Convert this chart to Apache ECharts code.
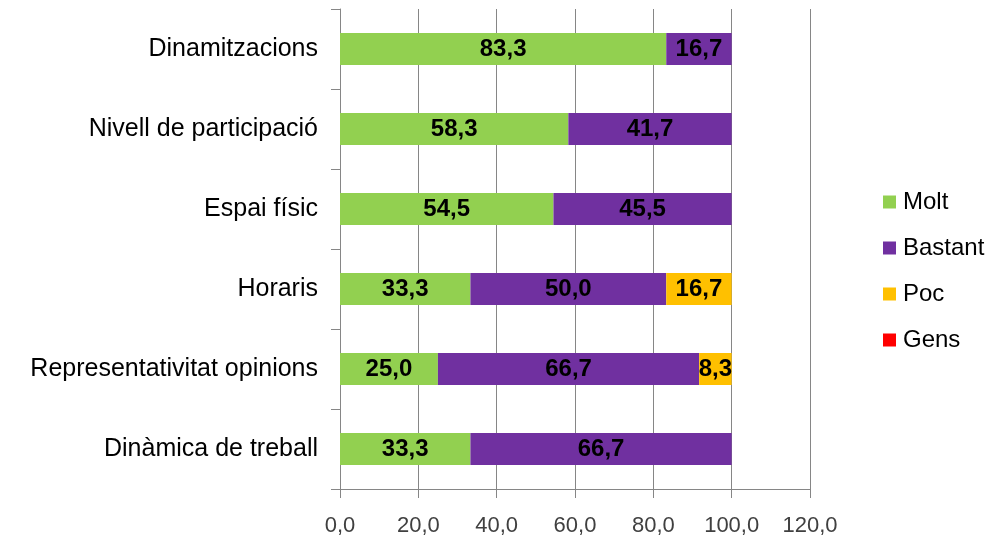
<!DOCTYPE html>
<html>
<head>
<meta charset="utf-8">
<script src="https://cdn.jsdelivr.net/npm/echarts@6/dist/echarts.min.js"></script>
<style>
  html, body { margin: 0; padding: 0; background: #fff; }
  #chart { width: 996px; height: 539px; }
</style>
</head>
<body>
<div id="chart"></div>
<script>
// categories top to bottom
const categories = [
  'Dinamitzacions',
  'Nivell de participació',
  'Espai físic',
  'Horaris',
  'Representativitat opinions',
  'Dinàmica de treball'
];
const molt = [83.3, 58.3, 54.5, 33.3, 25.0, 33.3];
const bastant = [16.7, 41.7, 45.5, 50.0, 66.7, 66.7];
const poc = [0, 0, 0, 16.7, 8.3, 0];
const gens = [0, 0, 0, 0, 0, 0];
const xTicks = [0, 20, 40, 60, 80, 100, 120];

const seriesNames = ['Molt', 'Bastant', 'Poc', 'Gens'];
const seriesData = [molt, bastant, poc, gens];
const colors = ['#92D050', '#7030A0', '#FFC000', '#FF0000'];

const fmt = v => v.toFixed(1).replace('.', ',');
const font = '"Liberation Sans", Arial, sans-serif';

const myChart = echarts.init(document.getElementById('chart'));

const option = {
  animation: false,
  color: colors,
  textStyle: { fontFamily: font },
  grid: { left: 340, right: 186, top: 9, bottom: 50 },
  legend: {
    orient: 'vertical',
    left: 878,
    top: 185,
    data: seriesNames,
    icon: 'rect',
    itemWidth: 13,
    itemHeight: 13,
    itemGap: 22,
    textStyle: { fontSize: 24, color: '#000', fontFamily: font, padding: [0, 0, 0, 2] }
  },
  xAxis: {
    type: 'value',
    min: xTicks[0],
    max: xTicks[xTicks.length - 1],
    interval: 20,
    axisLine: { show: true, lineStyle: { color: '#868686' } },
    axisTick: { show: true, length: 9, lineStyle: { color: '#868686' } },
    splitLine: { show: true, lineStyle: { color: '#868686' } },
    axisLabel: {
      margin: 26,
      fontSize: 22,
      color: '#404040',
      formatter: v => fmt(v)
    }
  },
  yAxis: {
    type: 'category',
    inverse: true,
    data: categories,
    axisLine: { show: true, lineStyle: { color: '#868686' } },
    axisTick: { show: true, length: 9, lineStyle: { color: '#868686' } },
    axisLabel: { margin: 22, fontSize: 25, color: '#000' }
  },
  series: seriesNames.map((name, i) => ({
    name: name,
    type: 'bar',
    stack: 'total',
    barWidth: '40%',
    data: seriesData[i],
    label: {
      show: true,
      position: 'inside',
      fontSize: 24,
      fontWeight: 'bold',
      color: '#000',
      formatter: p => (p.value > 0 ? fmt(p.value) : '')
    }
  }))
};

myChart.setOption(option);
</script>
</body>
</html>
